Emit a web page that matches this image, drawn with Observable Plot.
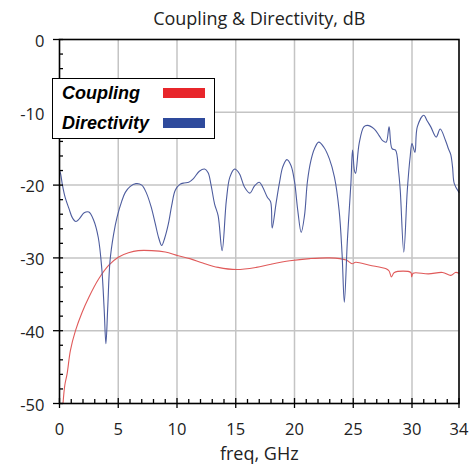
<!DOCTYPE html>
<html><head><meta charset="utf-8">
<script src="https://cdn.jsdelivr.net/npm/d3@7"></script>
<script src="https://cdn.jsdelivr.net/npm/@observablehq/plot@0.6"></script>
<style>
body{margin:0;background:#fff;}
#wrap{position:relative;width:469px;height:474px;overflow:hidden;}
#legend{position:absolute;left:52px;top:78px;width:163px;height:61px;border:1.5px solid #000;background:#fff;box-sizing:border-box;font:italic bold 18px "Liberation Sans",Arial,sans-serif;color:#000;}
#legend .lab{position:absolute;left:9px;white-space:nowrap;line-height:1;}
#legend .sw{position:absolute;left:110px;width:42px;height:10px;}
</style>
</head><body>
<div id="wrap"></div>
<script>
// Directivity (blue)
const dirFreq = [0,0.1,0.25,0.5,0.8,1.1,1.4,1.7,2.1,2.5,2.9,3.3,3.6,3.8,3.95,4.1,4.3,4.6,4.9,5.3,5.6,6.0,6.5,7.0,7.4,7.8,8.15,8.45,8.7,8.95,9.27,9.55,9.85,10.25,10.6,11.0,11.4,11.9,12.35,12.65,12.9,13.2,13.5,13.84,14.2,14.5,14.9,15.3,15.75,16.2,16.6,17.0,17.3,17.7,17.97,18.1,18.45,18.73,19.0,19.35,19.7,20.0,20.28,20.57,20.85,21.1,21.4,21.7,22.06,22.5,22.97,23.4,23.8,24.05,24.24,24.5,24.8,24.94,25.1,25.2,25.5,25.9,26.2,26.8,27.2,27.5,27.8,28.05,28.3,28.6,28.85,29.0,29.3,29.6,29.85,30.0,30.25,30.45,31.0,31.3,31.6,32.06,32.4,32.86,33.1,33.3,33.45,33.6,34];
const dirVal = [-18.0,-18.5,-20.0,-21.8,-23.2,-24.5,-25.0,-24.6,-23.8,-23.7,-24.8,-27.2,-31.5,-37,-41.8,-37,-30.4,-26.8,-24.4,-22.2,-21.0,-20.2,-19.8,-20.0,-21.1,-23.0,-25.3,-27.3,-28.3,-27.3,-25.3,-22.8,-20.7,-19.9,-19.7,-19.6,-19.1,-18.1,-17.8,-18.3,-20.0,-22.6,-24.2,-29.0,-22.1,-18.9,-17.8,-18.4,-20.3,-21.1,-20.1,-19.6,-20.3,-21.7,-22.3,-25.9,-22.3,-19.6,-17.5,-16.5,-17.3,-19.5,-23.5,-26.5,-24.2,-19.5,-16.6,-15.0,-14.1,-14.8,-16.4,-18.9,-23.5,-29.5,-36.1,-27.6,-19.8,-15.2,-18.0,-18.4,-14.3,-12.0,-11.8,-12.3,-13.2,-13.9,-14.1,-12.0,-15.0,-15.2,-18.0,-20.7,-29.2,-20.7,-16.0,-14.3,-15.5,-12.0,-10.4,-11.2,-12.0,-13.4,-12.3,-13.9,-15.0,-15.8,-17.5,-19.8,-21.0];
// Coupling (red)
const coupFreq = [0.3,0.45,0.65,0.93,1.36,1.92,2.5,3.33,4.2,5.0,5.87,6.7,7.85,9.0,10.1,11.1,12.2,13.5,15.06,16.75,17.9,19.6,21.3,23.0,24.4,24.9,25.2,26.4,27.8,28.05,28.25,28.5,29.9,29.97,30.1,31.4,32.6,33.3,33.7,34];
const coupVal = [-50,-47.5,-45.9,-42.7,-40,-37.5,-35.4,-32.9,-31.0,-29.9,-29.3,-29.0,-29.0,-29.2,-29.7,-30.1,-30.7,-31.3,-31.6,-31.3,-30.9,-30.4,-30.1,-30.0,-30.3,-30.8,-30.6,-31.0,-31.5,-31.8,-32.6,-32.0,-32.0,-32.6,-32.1,-32.2,-32.0,-32.4,-32.0,-32.1];
// Axes
const xTicks = [0,5,10,15,20,25,30,34];
const xGrid = [5,10,15,20,25,30];
const xMinor = [1,2,3,4,6,7,8,9,11,12,13,14,16,17,18,19,21,22,23,24,26,27,28,29,31,32,33];
const yTicks = [0,-10,-20,-30,-40,-50];
const yGrid = [-10,-20,-30,-40];
const yMinor = [-2,-4,-6,-8,-12,-14,-16,-18,-22,-24,-26,-28,-32,-34,-36,-38,-42,-44,-46,-48];
const title = "Coupling & Directivity, dB";
const xLabel = "freq, GHz";
const seriesNames = ["Coupling","Directivity"];
const seriesColors = ["#e8262b","#2e4a9c"];

const dirData = dirFreq.map((f,i)=>({f, v: dirVal[i]}));
const coupData = coupFreq.map((f,i)=>({f, v: coupVal[i]}));
const font = '"Open Sans", sans-serif';

const chart = Plot.plot({
  width: 469, height: 474,
  marginLeft: 59, marginRight: 10.5, marginTop: 39, marginBottom: 71,
  x: {domain: [0,34]},
  y: {domain: [-50,0]},
  style: {fontFamily: font, background: "#fff"},
  marks: [
    Plot.gridX(xGrid, {stroke: "#c4c4c4", strokeOpacity: 1, strokeWidth: 1.5}),
    Plot.gridY(yGrid, {stroke: "#c4c4c4", strokeOpacity: 1, strokeWidth: 1.5}),
    Plot.line(coupData, {x: "f", y: "v", stroke: "#e05a5a", strokeWidth: 1.1, curve: "catmull-rom"}),
    Plot.line(dirData, {x: "f", y: "v", stroke: "#4d5c9e", strokeWidth: 1.1, curve: "catmull-rom"}),
    Plot.frame({stroke: "#000", strokeWidth: 1.6}),
    Plot.axisX(xMinor, {tickSize: -4, text: null, label: null, stroke: "#000", strokeWidth: 1.3}),
    Plot.axisX(xTicks, {tickSize: 5, text: null, label: null, stroke: "#000", strokeWidth: 1.3}),
    Plot.axisX(xTicks, {tickSize: -5, text: null, label: null, stroke: "#000", strokeWidth: 1.3}),
    Plot.axisX(xTicks, {tickSize: 0, tickPadding: 20, label: null, fontSize: 16.5, fill: "#222", tickFormat: d => String(d)}),
    Plot.axisY(yMinor, {tickSize: -4, text: null, label: null, stroke: "#000", strokeWidth: 1.3}),
    Plot.axisY(yTicks, {tickSize: 6, text: null, label: null, stroke: "#000", strokeWidth: 1.3}),
    Plot.axisY(yTicks, {tickSize: -4, text: null, label: null, stroke: "#000", strokeWidth: 1.3}),
    Plot.axisY(yTicks, {tickSize: 0, tickPadding: 15, dy: 2, label: null, fontSize: 16.5, fill: "#222", tickFormat: d => String(d)}),
    Plot.text([title], {frameAnchor: "top", dy: -20, fontSize: 18, fill: "#222", lineAnchor: "middle"}),
    Plot.text([xLabel], {frameAnchor: "bottom", dy: 51, fontSize: 18, fill: "#222", lineAnchor: "middle"})
  ]
});
const wrap = document.getElementById("wrap");
wrap.appendChild(chart);

const leg = document.createElement("div");
leg.id = "legend";
const tops = [5, 35];
seriesNames.forEach((name, i) => {
  const l = document.createElement("div");
  l.className = "lab"; l.textContent = name; l.style.top = tops[i] + "px";
  leg.appendChild(l);
  const s = document.createElement("div");
  s.className = "sw"; s.style.background = seriesColors[i]; s.style.top = (tops[i] + 3.5) + "px";
  leg.appendChild(s);
});
wrap.appendChild(leg);
</script>
</body></html>
